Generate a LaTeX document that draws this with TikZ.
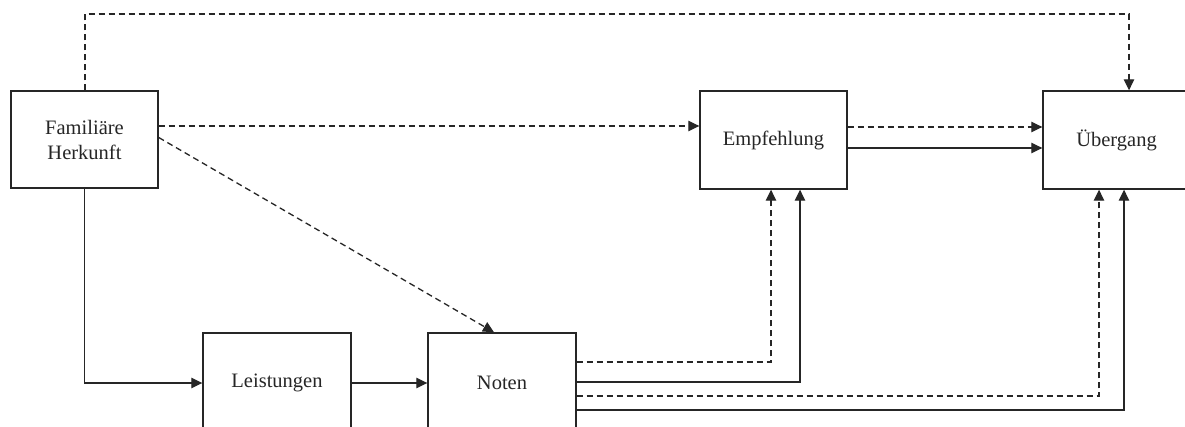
\documentclass[tikz,border=0pt]{standalone}
\usepackage{fontspec}
\setmainfont{Liberation Serif}
\usetikzlibrary{arrows.meta,calc}
\begin{document}
\begin{tikzpicture}[x=1pt,y=-1pt,
  box/.style={draw=black!85,line width=1.4pt,minimum width=147pt,minimum height=97pt,inner sep=0pt,align=center,
    font=\fontsize{20.5}{25}\selectfont,text=black!85},
  conn/.style={draw=black!85,line width=1.3pt,-{Triangle[length=11pt,width=10.5pt]}},
  dsh/.style={conn,dash pattern=on 6pt off 4pt}]
\useasboundingbox (0,0) rectangle (1185,427);
\clip (0,0) rectangle (1185,427);
\fill[white] (0,0) rectangle (1185,427);
\node[box] (fam) at (84.5,139.5) {Familiäre\\Herkunft};
\node[box,minimum height=98pt] (emp) at (773.5,140) {Empfehlung};
\node[box,minimum height=98pt] (ueb) at (1116.5,140) {Übergang};
\node[box,minimum width=148pt,minimum height=100pt] (leis) at (277,383) {Leistungen};
\node[box,minimum width=148pt,minimum height=100pt] (noten) at (502,383) {Noten};
% top dashed line
\coordinate (t1) at (85,14);
\coordinate (t2) at (1129,14);
\draw[dsh] (fam.north -| t1) -- (t1) -- (t2) -- (t2 |- ueb.north);
% Familiäre -> Empfehlung
\draw[dsh] ([yshift=13.5pt]fam.east) -- ([yshift=13.5pt]fam.east -| emp.west);
% Familiäre -> Noten diagonal
\coordinate (nt) at (494,333);
\draw[dsh] ([yshift=2pt]fam.east) -- (nt |- noten.north);
% Empfehlung -> Übergang
\draw[dsh] ([yshift=13pt]emp.east) -- ([yshift=13pt]emp.east -| ueb.west);
\draw[conn] ([yshift=-8pt]emp.east) -- ([yshift=-8pt]emp.east -| ueb.west);
% Familiäre -> Leistungen
\draw[conn] (fam.south) |- (leis.west);
% Leistungen -> Noten
\draw[conn] (leis.east) -- (noten.west);
% Noten -> Empfehlung / Übergang
\coordinate (a1) at (771,362);
\coordinate (a2) at (800,382);
\coordinate (a3) at (1099,396);
\coordinate (a4) at (1124,410);
\draw[dsh] (noten.east |- a1) -- (a1) -- (a1 |- emp.south);
\draw[conn] (noten.east |- a2) -- (a2) -- (a2 |- emp.south);
\draw[dsh] (noten.east |- a3) -- (a3) -- (a3 |- ueb.south);
\draw[conn] (noten.east |- a4) -- (a4) -- (a4 |- ueb.south);
\end{tikzpicture}
\end{document}
